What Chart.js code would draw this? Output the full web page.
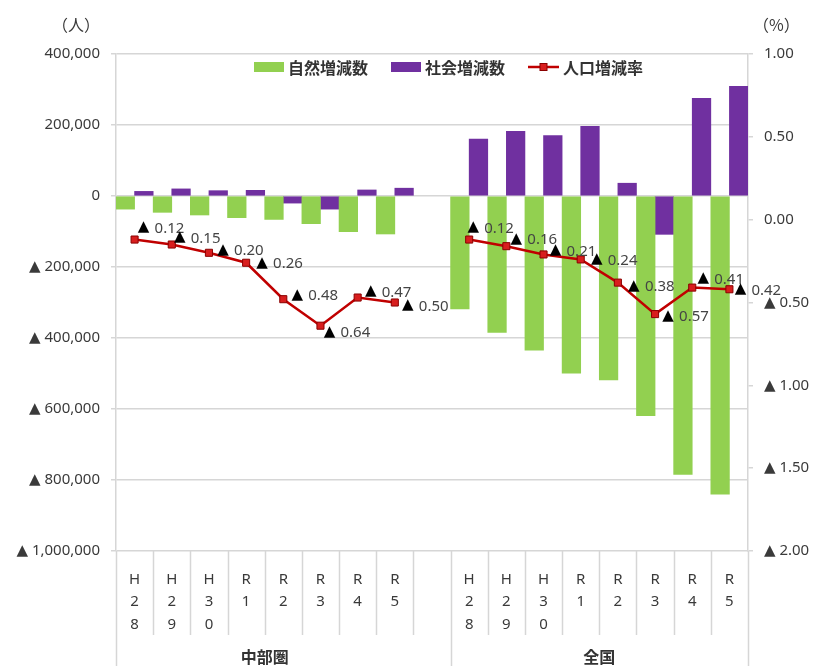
<!DOCTYPE html>
<html>
<head>
<meta charset="utf-8">
<script src="https://cdn.jsdelivr.net/npm/chart.js@4.4.1/dist/chart.umd.min.js"></script>
<style>
  html, body { margin: 0; padding: 0; background: #fff; }
  #wrap { width: 816px; height: 666px; }
</style>
</head>
<body>
<div id="wrap"><canvas id="chart" width="816" height="666"></canvas></div>
<script>
const years = ['H28', 'H29', 'H30', 'R1', 'R2', 'R3', 'R4', 'R5']
const groups = ['中部圏', '全国']

// 中部圏
const naturalChubu = [-37000, -46000, -53500, -61000, -66000, -78000, -100500, -107000]
const socialChubu = [13000, 20000, 15000, 16000, -20000, -37000, 17000, 22000]
const rateChubu = [-0.12, -0.15, -0.20, -0.26, -0.48, -0.64, -0.47, -0.50]

// 全国
const naturalJapan = [-318000, -384000, -434000, -499000, -518000, -619000, -784000, -840000]
const socialJapan = [160000, 182000, 170000, 196000, 36000, -108000, 275000, 309000]
const rateJapan = [-0.12, -0.16, -0.21, -0.24, -0.38, -0.57, -0.41, -0.42]

const leftTicks = { min: -1000000, max: 400000, step: 200000 }
const rightTicks = { min: -2, max: 1, step: 0.5 }

// hand placed label offsets (like the moved labels in the original)
const labelNudge = [
  [9, -12], [8, -7], [14, -3], [16, 0], [14, -4], [9, 6], [13, -6], [13, 3],
  null,
  [4, -12], [10, -7], [12, -4], [16, 0], [16, 3], [13, 2], [11, -9], [11, 0]
]

const GREEN = '#92d050'
const PURPLE = '#7030a0'
const RED = '#c00000'
const GRID = '#d6d6d6'
const TEXT = '#3a3a3a'
const NUM_FONT = '"Noto Sans", "DejaVu Sans", sans-serif'
const JP_FONT = '"Noto Sans CJK JP", sans-serif'

const labels = [...years.map((y) => y.split('')), '', ...years.map((y) => y.split(''))]
const natural = [...naturalChubu, null, ...naturalJapan]
const social = [...socialChubu, null, ...socialJapan]
const rate = [...rateChubu, null, ...rateJapan]

const tri = (v, digits) => {
  const s = digits != null
    ? Math.abs(v).toFixed(digits)
    : Math.abs(v).toLocaleString('en-US')
  return v < -1e-9 ? '▲ ' + s : s
}

const overlay = {
  id: 'overlay',
  afterDraw(chart) {
    const { ctx, chartArea: a, scales } = chart
    const x = scales.x
    const H = chart.height
    ctx.save()

    // units
    ctx.font = '16px ' + JP_FONT
    ctx.fillStyle = TEXT
    ctx.textBaseline = 'middle'
    ctx.textAlign = 'left'
    ctx.fillText('（人）', 52, 25)
    ctx.fillText('（%）', 753, 25)

    // category dividers below the plot
    ctx.strokeStyle = GRID
    ctx.lineWidth = 1.5
    for (let i = 0; i <= labels.length; i++) {
      const xb = Math.round(x.getPixelForValue(i - 0.5)) + 0.5
      const full = i === 0 || i === 9 || i === labels.length
      ctx.beginPath()
      ctx.moveTo(xb, a.bottom)
      ctx.lineTo(xb, full ? H : a.bottom + 84)
      ctx.stroke()
    }

    // group names
    ctx.font = 'bold 16px ' + JP_FONT
    ctx.fillStyle = '#333'
    ctx.textAlign = 'center'
    ctx.fillText(groups[0], x.getPixelForValue(3.5), 657)
    ctx.fillText(groups[1], x.getPixelForValue(12.5), 657)

    // rate labels
    const meta = chart.getDatasetMeta(2)
    meta.data.forEach((pt, i) => {
      const v = rate[i]
      if (v == null) return
      const [dx, dy] = labelNudge[i]
      const cx = pt.x + dx
      const cy = pt.y + dy
      ctx.textAlign = 'center'
      ctx.fillStyle = '#000'
      ctx.font = '15px "DejaVu Sans", sans-serif'
      ctx.fillText('▲', cx, cy)
      ctx.textAlign = 'left'
      ctx.fillStyle = '#444'
      ctx.font = '15px ' + NUM_FONT
      ctx.fillText(Math.abs(v).toFixed(2), cx + 11, cy + 1)
    })

    // legend
    ctx.textAlign = 'left'
    ctx.font = 'bold 16px ' + JP_FONT
    let lx = 254
    const ly = 67
    chart.data.datasets.forEach((ds) => {
      if (ds.type === 'line') {
        ctx.strokeStyle = ds.borderColor
        ctx.lineWidth = 2.5
        ctx.beginPath()
        ctx.moveTo(lx, ly)
        ctx.lineTo(lx + 31, ly)
        ctx.stroke()
        ctx.fillStyle = ds.pointBackgroundColor
        ctx.strokeStyle = ds.pointBorderColor
        ctx.lineWidth = 1
        ctx.fillRect(lx + 12, ly - 3.5, 7, 7)
        ctx.strokeRect(lx + 12, ly - 3.5, 7, 7)
        lx += 35
      } else {
        ctx.fillStyle = ds.backgroundColor
        ctx.fillRect(lx, ly - 5, 30, 10)
        lx += 34
      }
      ctx.fillStyle = '#333'
      ctx.fillText(ds.label, lx, ly + 1)
      lx += ctx.measureText(ds.label).width + 23
    })

    ctx.restore()
  }
}

new Chart(document.getElementById('chart'), {
  type: 'bar',
  data: {
    labels,
    datasets: [
      {
        label: '自然増減数',
        data: natural,
        backgroundColor: GREEN,
        yAxisID: 'y',
        order: 2
      },
      {
        label: '社会増減数',
        data: social,
        backgroundColor: PURPLE,
        yAxisID: 'y',
        order: 2
      },
      {
        type: 'line',
        label: '人口増減率',
        data: rate,
        yAxisID: 'y1',
        borderColor: RED,
        borderWidth: 2.5,
        pointStyle: 'rect',
        pointRadius: 5,
        pointBackgroundColor: '#d81e1e',
        pointBorderColor: '#8a0000',
        pointBorderWidth: 1,
        spanGaps: false,
        tension: 0,
        order: 0
      }
    ]
  },
  options: {
    responsive: false,
    animation: false,
    devicePixelRatio: 1,
    layout: { padding: { top: 54, left: 0, right: 0, bottom: 0 } },
    datasets: { bar: { barPercentage: 1, categoryPercentage: 1 } },
    plugins: {
      legend: { display: false },
      tooltip: { enabled: false }
    },
    scales: {
      x: {
        grid: { display: false },
        border: { display: false },
        ticks: {
          autoSkip: false,
          maxRotation: 0,
          padding: 9,
          color: TEXT,
          font: { family: NUM_FONT, size: 15, lineHeight: 1.5 }
        },
        afterFit: (s) => { s.height = 115 }
      },
      y: {
        position: 'left',
        min: leftTicks.min,
        max: leftTicks.max,
        ticks: {
          stepSize: leftTicks.step,
          padding: 11,
          color: TEXT,
          font: { family: NUM_FONT, size: 15 },
          callback: (v) => tri(v)
        },
        grid: { color: GRID, lineWidth: 1.5, tickLength: 5 },
        border: { display: true, color: GRID, width: 1.5 },
        afterFit: (s) => { s.width = 116 }
      },
      y1: {
        position: 'right',
        min: rightTicks.min,
        max: rightTicks.max,
        ticks: {
          stepSize: rightTicks.step,
          padding: 11,
          color: TEXT,
          font: { family: NUM_FONT, size: 15 },
          callback: (v) => tri(v, 2)
        },
        grid: { drawOnChartArea: false, color: GRID, lineWidth: 1.5, tickLength: 5 },
        border: { display: true, color: GRID, width: 1.5 },
        afterFit: (s) => { s.width = 68 }
      }
    }
  },
  plugins: [overlay]
})
</script>
</body>
</html>
